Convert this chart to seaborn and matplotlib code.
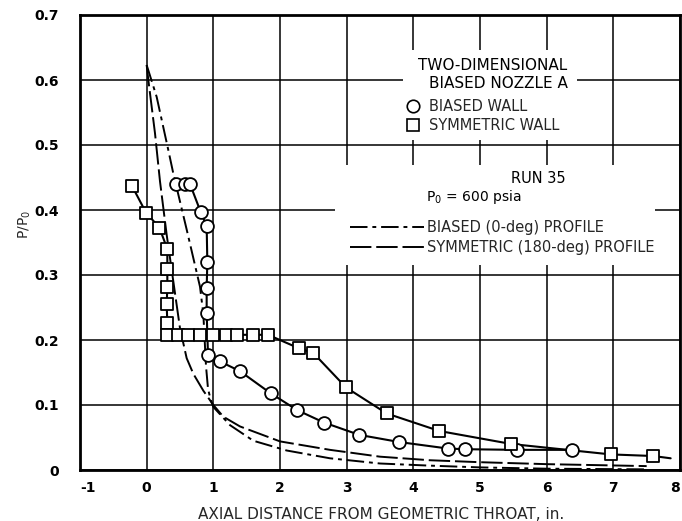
import matplotlib
matplotlib.use("Agg")
import matplotlib.pyplot as plt
import seaborn as sns
import numpy as np
import pandas as pd
from matplotlib.lines import Line2D
from matplotlib.patches import Rectangle

# ---------------- data ----------------
biased_wall_x = [0.44, 0.57, 0.65, 0.81, 0.90, 0.91, 0.90, 0.90, 0.92, 1.10, 1.40,
                 1.86, 2.26, 2.66, 3.19, 3.79, 4.52, 4.77, 5.55, 6.38]
biased_wall_y = [0.440, 0.440, 0.440, 0.397, 0.375, 0.320, 0.280, 0.242, 0.177, 0.167,
                 0.152, 0.118, 0.092, 0.073, 0.054, 0.043, 0.033, 0.032, 0.031, 0.031]

sym_wall_x = [-0.22, -0.01, 0.19, 0.31, 0.31, 0.31, 0.30, 0.31, 0.30, 0.47, 0.62, 0.80,
              1.00, 1.19, 1.35, 1.60, 1.82, 2.29, 2.50, 2.99, 3.60, 4.39, 5.47, 6.96, 7.60]
sym_wall_y = [0.437, 0.396, 0.373, 0.340, 0.310, 0.281, 0.255, 0.226, 0.208, 0.208, 0.208,
              0.208, 0.208, 0.208, 0.208, 0.208, 0.208, 0.187, 0.180, 0.127, 0.087, 0.060,
              0.040, 0.024, 0.0215]
# faired curve through symmetric-wall points continues slightly past the last point
sym_wall_tail_x = [7.86]
sym_wall_tail_y = [0.018]

biased_profile_x = [0.0, 0.15, 0.325, 0.40, 0.60, 0.80, 0.85, 0.87, 0.89, 0.92, 0.96, 1.00,
                    1.25, 1.60, 2.10, 2.75, 3.50, 4.25, 5.00, 6.00, 7.50]
biased_profile_y = [0.623, 0.574, 0.492, 0.456, 0.370, 0.282, 0.240, 0.200, 0.160, 0.125,
                    0.108, 0.097, 0.069, 0.045, 0.030, 0.018, 0.010, 0.0067, 0.004, 0.002, 0.001]

sym_profile_x = [0.0, 0.025, 0.125, 0.20, 0.30, 0.40, 0.50, 0.60, 0.70, 0.85, 1.00, 1.15,
                 1.40, 2.00, 2.75, 3.50, 4.25, 5.00, 6.00, 7.50]
sym_profile_y = [0.623, 0.600, 0.518, 0.444, 0.362, 0.290, 0.218, 0.172, 0.148, 0.122, 0.100,
                 0.082, 0.067, 0.044, 0.031, 0.0205, 0.015, 0.012, 0.009, 0.006]

x_ticks = [-1, 0, 1, 2, 3, 4, 5, 6, 7, 8]
y_ticks = [0, 0.1, 0.2, 0.3, 0.4, 0.5, 0.6, 0.7]
y_tick_labels = ["0", "0.1", "0.2", "0.3", "0.4", "0.5", "0.6", "0.7"]

# ---------------- style ----------------
sns.set_theme(style="white")
plt.rcParams["font.family"] = ["DejaVu Sans"]
plt.rcParams["mathtext.default"] = "regular"
plt.rcParams["axes.unicode_minus"] = False

fig, ax = plt.subplots(figsize=(6.82, 5.21), dpi=100)
fig.subplots_adjust(left=80 / 682, right=680 / 682, bottom=1 - 470 / 521, top=1 - 15 / 521)

ax.set_xlim(-1, 8)
ax.set_ylim(0, 0.7)
ax.set_axisbelow(True)
ax.set_xticks(x_ticks)
ax.set_yticks(y_ticks)
ax.set_yticklabels(y_tick_labels)
ax.grid(True, color="black", linewidth=1.1)
for s in ax.spines.values():
    s.set_color("black")
    s.set_linewidth(2.0)
ax.tick_params(axis="both", length=0, labelsize=10, colors="black")
ax.tick_params(axis="y", pad=15)
ax.tick_params(axis="x", pad=8)
for lab in ax.get_xticklabels() + ax.get_yticklabels():
    lab.set_fontweight("bold")
xl = ax.get_xticklabels()
xl[0].set_horizontalalignment("left")
xl[-1].set_horizontalalignment("right")

# white areas behind the annotation blocks (grid hidden there)
ax.add_patch(Rectangle((3.84, 0.508), 6.45 - 3.84, 0.646 - 0.508, facecolor="white",
                       edgecolor="none", zorder=1))
ax.add_patch(Rectangle((2.82, 0.315), 7.62 - 2.82, 0.469 - 0.315, facecolor="white",
                       edgecolor="none", zorder=1))

# ---------------- profiles ----------------
biased_dash = (0, (9, 2.5, 2, 2.5))
sym_dash = (0, (11, 2.5))
sns.lineplot(x=biased_profile_x, y=biased_profile_y, ax=ax, color="black", linewidth=1.4,
             sort=False, estimator=None, linestyle=biased_dash, zorder=3)
sns.lineplot(x=sym_profile_x, y=sym_profile_y, ax=ax, color="black", linewidth=1.4,
             sort=False, estimator=None, linestyle=sym_dash, zorder=3)

# ---------------- wall data ----------------
sns.lineplot(x=biased_wall_x, y=biased_wall_y, ax=ax, color="black", linewidth=1.5,
             sort=False, estimator=None, zorder=3)
sns.lineplot(x=sym_wall_x + sym_wall_tail_x, y=sym_wall_y + sym_wall_tail_y, ax=ax,
             color="black", linewidth=1.5, sort=False, estimator=None, zorder=3)
sns.scatterplot(x=biased_wall_x, y=biased_wall_y, ax=ax, marker="o", s=85, color="white",
                edgecolor="black", linewidth=1.3, zorder=4)
sns.scatterplot(x=sym_wall_x, y=sym_wall_y, ax=ax, marker="s", s=85, color="white",
                edgecolor="black", linewidth=1.3, zorder=4)

# ---------------- labels ----------------
ax.set_xlabel("AXIAL DISTANCE FROM GEOMETRIC THROAT, in.", fontsize=11)
ax.set_ylabel("P/P$_0$", fontsize=10)
ax.xaxis.set_label_coords(0.502, -0.081)
ax.yaxis.set_label_coords(-0.078, 0.54)

tx = dict(color="black", zorder=5)
ax.text(5.19, 0.623, "TWO-DIMENSIONAL", ha="center", va="center", fontsize=11, **tx)
ax.text(5.27, 0.594, "BIASED NOZZLE A", ha="center", va="center", fontsize=11, **tx)
ax.text(5.87, 0.449, "RUN 35", ha="center", va="center", fontsize=10.5, **tx)
ax.text(4.19, 0.420, "P$_0$ = 600 psia", ha="left", va="center", fontsize=10, **tx)

h1 = [Line2D([], [], marker="o", ls="none", mfc="white", mec="black", ms=9, mew=1.2),
      Line2D([], [], marker="s", ls="none", mfc="white", mec="black", ms=9, mew=1.2)]
leg1 = ax.legend(h1, ["BIASED WALL", "SYMMETRIC WALL"], loc="upper left",
                 bbox_to_anchor=(3.89, 0.571), bbox_transform=ax.transData,
                 frameon=False, fontsize=10.5, handlelength=1.0, handletextpad=0.55,
                 borderpad=0, borderaxespad=0, labelspacing=0.3)
ax.add_artist(leg1)
h2 = [Line2D([], [], color="black", lw=1.4, ls=biased_dash),
      Line2D([], [], color="black", lw=1.4, ls=sym_dash)]
leg2 = ax.legend(h2, ["BIASED (0-deg) PROFILE", "SYMMETRIC (180-deg) PROFILE"],
                 loc="upper left", bbox_to_anchor=(3.05, 0.384), bbox_transform=ax.transData,
                 frameon=False, fontsize=10.5, handlelength=5.1, handletextpad=0.2,
                 borderpad=0, borderaxespad=0, labelspacing=0.3)

fig.savefig("out.png", dpi=100)
